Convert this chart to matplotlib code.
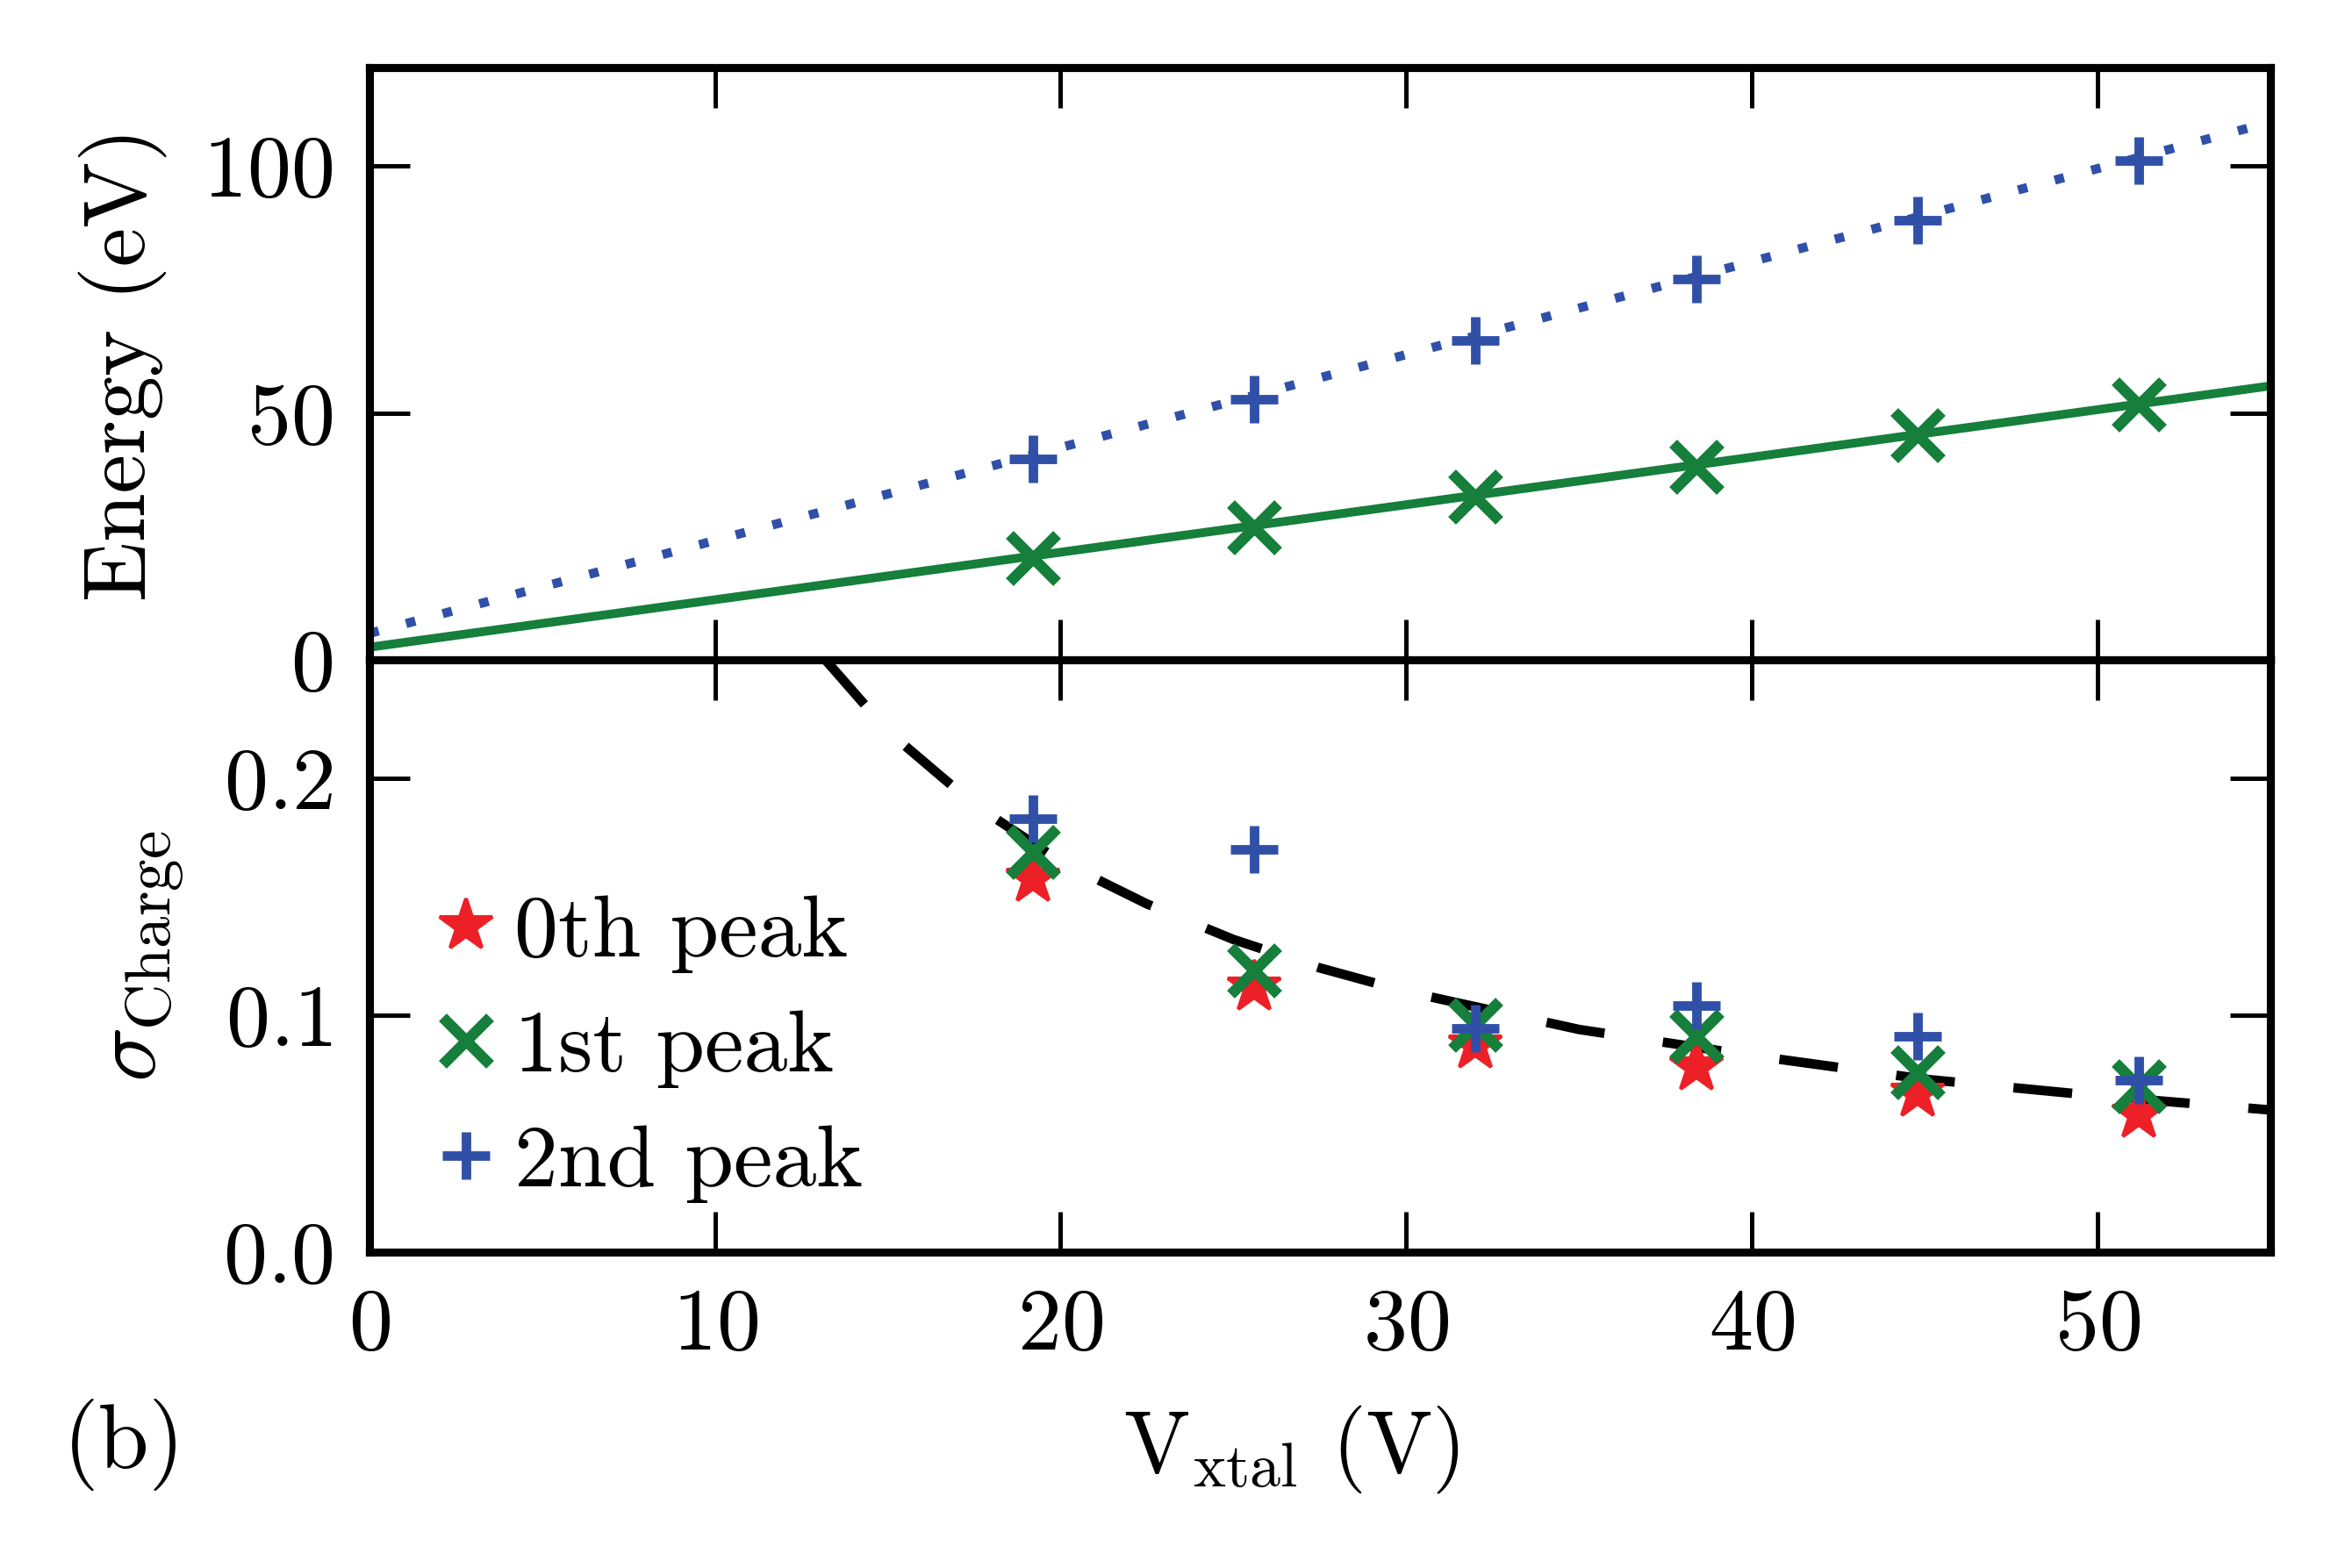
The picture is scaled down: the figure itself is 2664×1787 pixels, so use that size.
import matplotlib
matplotlib.use("Agg")
import matplotlib.pyplot as plt

plt.rcParams['font.family'] = 'serif'
plt.rcParams['font.serif'] = ['cmr10']
plt.rcParams['mathtext.fontset'] = 'cm'
plt.rcParams['axes.unicode_minus'] = False
plt.rcParams['axes.formatter.use_mathtext'] = True

# data
v_xtal = [19.2, 25.6, 32.0, 38.4, 44.8, 51.2]
energy_1st = [20.7, 26.9, 33.1, 39.2, 45.6, 51.8]
energy_2nd = [40.8, 52.8, 64.7, 77.2, 89.0, 101.1]

fit_x = [0, 55]
fit_1st = [2.6, 55.5]
fit_2nd = [5.4, 108.9]

sigma_0th = [0.158, 0.112, 0.0875, 0.078, 0.067, 0.058]
sigma_1st = [0.169, 0.119, 0.096, 0.091, 0.076, 0.070]
sigma_2nd = [0.183, 0.170, 0.0945, 0.104, 0.091, 0.0725]

curve_x = [13.2, 15, 17.5, 20, 22.5, 25, 27.5, 30, 35, 40, 45, 50, 55]
curve_y = [0.250, 0.220, 0.189, 0.165, 0.147, 0.132, 0.120, 0.110,
           0.094, 0.083, 0.073, 0.066, 0.060]

red = '#ec2026'
green = '#157f3b'
blue = '#3050a8'

fig = plt.figure(figsize=(8.88, 5.957), dpi=300)
ax1 = fig.add_axes([0.158, 0.579, 0.813, 0.378])
ax2 = fig.add_axes([0.158, 0.2015, 0.813, 0.3775], sharex=ax1)

fs = 24

# top panel
ax1.plot(fit_x, fit_2nd, color=blue, lw=2.5, linestyle=(0, (1.05, 3.1)))
ax1.plot(fit_x, fit_1st, color=green, lw=2.4)
ax1.plot(v_xtal, energy_2nd, '+', color=blue, ms=13, mew=2.6)
ax1.plot(v_xtal, energy_1st, 'x', color=green, ms=13, mew=3.0)
ax1.set_ylim(0, 120)
ax1.set_yticks([0, 50, 100])
ax1.set_ylabel('Energy (eV)', fontsize=fs, labelpad=10)
plt.setp(ax1.get_xticklabels(), visible=False)

# bottom panel
ax2.plot(curve_x, curve_y, color='black', lw=2.6, linestyle=(0, (6.2, 6.2)))
ax2.plot(v_xtal, sigma_0th, '*', color=red, ms=15, mec=red, label='0th peak')
ax2.plot(v_xtal, sigma_1st, 'x', color=green, ms=13, mew=3.0, label='1st peak')
ax2.plot(v_xtal, sigma_2nd, '+', color=blue, ms=13, mew=2.6, label='2nd peak')
ax2.set_ylim(0, 0.25)
ax2.set_yticks([0.0, 0.1, 0.2])
ax2.set_xlim(0, 55)
ax2.set_xticks([0, 10, 20, 30, 40, 50])
ax2.set_ylabel(r'$\sigma_{\rm Charge}$', fontsize=fs + 1, labelpad=10)
ax2.set_xlabel(r'V$_{\rm xtal}$ (V)', fontsize=fs, labelpad=9)
ax2.xaxis.set_label_coords(0.485, -0.255)

leg = ax2.legend(loc='lower left', bbox_to_anchor=(0.0, -0.035), frameon=False,
                 numpoints=1, handlelength=0.6, handletextpad=0.25,
                 labelspacing=0.42, fontsize=fs, borderaxespad=0.4)

for ax in (ax1, ax2):
    for s in ax.spines.values():
        s.set_linewidth(2.2)
    ax.tick_params(direction='in', length=11, width=1.2, top=True, right=True,
                   labelsize=fs, pad=10)

fig.text(0.027, 0.064, '(b)', fontsize=fs + 1, va='baseline')

fig.savefig('out.png', dpi=300)
